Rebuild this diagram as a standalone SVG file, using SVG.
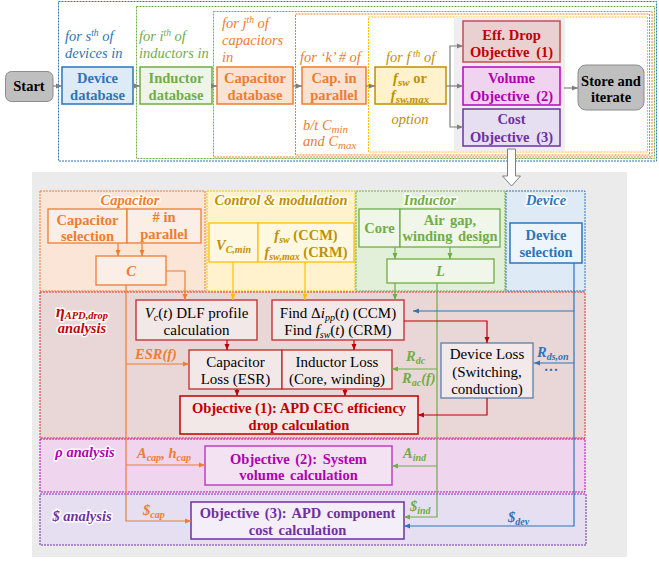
<svg xmlns="http://www.w3.org/2000/svg" width="659" height="562" viewBox="0 0 659 562">
<defs>
<style>
text{font-family:"Liberation Serif","Times New Roman",serif;font-size:14.5px;}
.b{font-weight:bold;}
.i{font-style:italic;}
.bi{font-weight:bold;font-style:italic;}
.r{font-size:15px;}
.m{text-anchor:middle;}
.glow{paint-order:stroke;stroke:#fff;stroke-width:3px;stroke-linejoin:round;}
.dot{stroke-dasharray:2 1;stroke-width:1;}
.ln{fill:none;stroke-width:1.2;}
.gr{stroke:#7f7f7f;}
.or{stroke:#ed7d31;}
.go{stroke:#ffc000;}
.gn{stroke:#70ad47;}
.bl{stroke:#2e75b6;}
.rd{stroke:#c00000;}
.sub{font-size:9.5px;}
</style>
<marker id="agr" viewBox="0 0 6 6" refX="6" refY="3" markerWidth="6" markerHeight="6" markerUnits="userSpaceOnUse" orient="auto"><path d="M0,0.5 L6,3 L0,5.5z" fill="#7f7f7f"/></marker>
<marker id="aor" viewBox="0 0 6 6" refX="6" refY="3" markerWidth="6" markerHeight="6" markerUnits="userSpaceOnUse" orient="auto"><path d="M0,0.5 L6,3 L0,5.5z" fill="#ed7d31"/></marker>
<marker id="ago" viewBox="0 0 6 6" refX="6" refY="3" markerWidth="6" markerHeight="6" markerUnits="userSpaceOnUse" orient="auto"><path d="M0,0.5 L6,3 L0,5.5z" fill="#ffc000"/></marker>
<marker id="agn" viewBox="0 0 6 6" refX="6" refY="3" markerWidth="6" markerHeight="6" markerUnits="userSpaceOnUse" orient="auto"><path d="M0,0.5 L6,3 L0,5.5z" fill="#70ad47"/></marker>
<marker id="abl" viewBox="0 0 6 6" refX="6" refY="3" markerWidth="6" markerHeight="6" markerUnits="userSpaceOnUse" orient="auto"><path d="M0,0.5 L6,3 L0,5.5z" fill="#2e75b6"/></marker>
<marker id="ard" viewBox="0 0 6 6" refX="6" refY="3" markerWidth="6" markerHeight="6" markerUnits="userSpaceOnUse" orient="auto"><path d="M0,0.5 L6,3 L0,5.5z" fill="#c00000"/></marker>
</defs>
<rect width="659" height="562" fill="#fff"/>

<!-- top loop frames -->
<g id="loops">
<rect x="58.5" y="1.5" width="598" height="159.5" fill="none" stroke="#2e75b6" class="dot"/>
<rect x="136.5" y="6.5" width="518" height="152" fill="none" stroke="#70ad47" class="dot"/>
<rect x="213.5" y="11.5" width="438.5" height="145.5" fill="none" stroke="#ed7d31" class="dot"/>
<rect x="295.5" y="14" width="354" height="141" fill="none" stroke="#ed7d31" class="dot"/>
<rect x="368.5" y="17" width="279" height="135" fill="none" stroke="#ffc000" class="dot"/>
<rect x="454" y="17" width="111" height="134" fill="#eeeeee"/>
<text x="65" y="41" class="i" fill="#2e75b6">for s<tspan font-size="9.5" dy="-5">th</tspan><tspan dy="5"> of</tspan></text>
<text x="65" y="58" class="i" fill="#2e75b6">devices in</text>
<text x="139" y="41" class="i" fill="#70ad47">for i<tspan font-size="9.5" dy="-5">th</tspan><tspan dy="5"> of</tspan></text>
<text x="139" y="58" class="i" fill="#70ad47">inductors in</text>
<text x="222" y="28" class="i" fill="#ed7d31">for j<tspan font-size="9.5" dy="-5">th</tspan><tspan dy="5"> of</tspan></text>
<text x="222" y="45" class="i" fill="#ed7d31">capacitors</text>
<text x="222" y="62" class="i" fill="#ed7d31">in</text>
<text x="300" y="62" class="i" fill="#ed7d31">for ‘k’ # of</text>
<text x="303" y="130" class="i" fill="#ed7d31">b/t <tspan>C</tspan><tspan font-size="11" dy="3">min</tspan></text>
<text x="303" y="146" class="i" fill="#ed7d31">and  C<tspan font-size="11" dy="3">max</tspan></text>
<text x="386" y="62" class="i" fill="#bf9000">for f<tspan font-size="9.5" dy="-5"> th</tspan><tspan dy="5"> of</tspan></text>
<text x="410" y="124" class="i m" fill="#bf9000">option</text>
</g>

<g id="start">
<rect x="5.5" y="71.5" width="47.5" height="30" rx="6" fill="#bfbfbf" stroke="#8c8c8c"/>
<text x="29" y="91" class="b m">Start</text>
</g>
<g id="device-db">
<rect x="62" y="67" width="71" height="37" fill="#ddebf7" stroke="#2e75b6" stroke-width="1.5"/>
<text x="97.5" y="83" class="b m" fill="#2e75b6">Device</text>
<text x="97.5" y="100" class="b m" fill="#2e75b6">database</text>
</g>
<g id="inductor-db">
<rect x="140" y="67" width="72" height="37" fill="#eef5e8" stroke="#70ad47" stroke-width="1.5"/>
<text x="176" y="83" class="b m" fill="#70ad47">Inductor</text>
<text x="176" y="100" class="b m" fill="#70ad47">database</text>
</g>
<g id="capacitor-db">
<rect x="217" y="67" width="76" height="37" fill="#fbe3d4" stroke="#ed7d31" stroke-width="1.5"/>
<text x="255" y="83" class="b m" fill="#ed7d31">Capacitor</text>
<text x="255" y="100" class="b m" fill="#ed7d31">database</text>
</g>
<g id="cap-parallel">
<rect x="302" y="67" width="64" height="37" fill="#fbe3d4" stroke="#ed7d31" stroke-width="1.5"/>
<text x="334" y="83" class="b m" fill="#ed7d31">Cap. in</text>
<text x="334" y="100" class="b m" fill="#ed7d31">parallel</text>
</g>
<g id="fsw-option">
<rect x="375" y="67" width="71" height="37" fill="#fff2cc" stroke="#bf9000" stroke-width="1.5"/>
<text x="410" y="83" class="b m" fill="#bf9000"><tspan font-style="italic">f</tspan><tspan font-style="italic" font-size="11" dy="3">sw</tspan><tspan dy="-3"> or</tspan></text>
<text x="410" y="100" class="b m" fill="#bf9000"><tspan font-style="italic">f</tspan><tspan font-style="italic" font-size="11" dy="3">sw,max</tspan></text>
</g>
<g id="obj-eff">
<rect x="463" y="21" width="97" height="41" fill="#ead1d1" stroke="#c0504d" stroke-width="1.5"/>
<text x="511.5" y="40" class="b m" fill="#c00000">Eff. Drop</text>
<text x="511.5" y="57" class="b m" fill="#c00000" word-spacing="3">Objective (1)</text>
</g>
<g id="obj-vol">
<rect x="463" y="67" width="97" height="38" fill="#f0d3ef" stroke="#c000c0" stroke-width="1.5"/>
<text x="511.5" y="83" class="b m" fill="#b000b0">Volume</text>
<text x="511.5" y="101" class="b m" fill="#b000b0" word-spacing="3">Objective (2)</text>
</g>
<g id="obj-cost">
<rect x="463" y="109" width="97" height="37" fill="#e6dff2" stroke="#7030a0" stroke-width="1.5"/>
<text x="511.5" y="124" class="b m" fill="#7030a0">Cost</text>
<text x="511.5" y="142" class="b m" fill="#7030a0" word-spacing="3">Objective (3)</text>
</g>
<g id="store">
<rect x="578" y="65" width="66" height="45" rx="8" fill="#bfbfbf" stroke="#8c8c8c"/>
<text x="611" y="86" class="b m">Store and</text>
<text x="611" y="102" class="b m">iterate</text>
</g>

<!-- bottom analysis -->
<g id="panel">
<rect x="32" y="172" width="595" height="385" fill="#ebebeb"/>
<polygon points="507.5,149 515.5,149 515.5,176 520.5,176 511.5,186 502.5,176 507.5,176" fill="#fff" stroke="#808080" stroke-width="1"/>
</g>
<g id="sec-capacitor">
<rect x="40" y="191" width="165" height="100" fill="#fbe5d6" stroke="#ed7d31" class="dot"/>
<text x="130" y="205" class="bi m glow" fill="#ed7d31">Capacitor</text>
</g>
<g id="sec-control">
<rect x="207" y="191" width="148" height="100" fill="#fff2cc" stroke="#ffc000" class="dot"/>
<text x="281" y="205" class="bi m glow" fill="#bf9000">Control &amp; modulation</text>
</g>
<g id="sec-inductor">
<rect x="356" y="191" width="149" height="100" fill="#e2efd9" stroke="#70ad47" class="dot"/>
<text x="430" y="205" class="bi m glow" fill="#70ad47">Inductor</text>
</g>
<g id="sec-device">
<rect x="506" y="191" width="79" height="100" fill="#deebf7" stroke="#2e75b6" class="dot"/>
<text x="546" y="205" class="bi m glow" fill="#2e75b6">Device</text>
</g>
<g id="sec-eta">
<rect x="40" y="292" width="545" height="146" fill="#e9d7d7" stroke="#e03030" class="dot"/>
<text x="82" y="317" class="bi m glow" fill="#c00000"><tspan font-size="16">η</tspan><tspan font-size="10.5" dy="2">APD,drop</tspan></text>
<text x="82" y="333" class="bi m glow" fill="#c00000" font-size="16">analysis</text>
</g>
<g id="sec-rho">
<rect x="40" y="439" width="545" height="53" fill="#efd6ee" stroke="#c000c0" class="dot"/>
<text x="85" y="457" class="bi m glow" fill="#b000b0" font-size="15">ρ analysis</text>
</g>
<g id="sec-cost">
<rect x="40" y="494" width="546" height="51" fill="#e6dff1" stroke="#7030a0" class="dot"/>
<text x="82" y="521" class="bi m glow" fill="#7030a0" font-size="15">$ analysis</text>
</g>

<g id="cap-selection">
<rect x="48" y="209" width="79" height="34" fill="#fbeee6" stroke="#ed7d31" stroke-width="1.3"/>
<text x="87.5" y="225" class="b m" fill="#ed7d31">Capacitor</text>
<text x="87.5" y="241" class="b m" fill="#ed7d31">selection</text>
</g>
<g id="cap-number">
<rect x="127" y="209" width="74" height="34" fill="#fbeee6" stroke="#ed7d31" stroke-width="1.3"/>
<text x="164" y="222" class="b m" fill="#ed7d31"># in</text>
<text x="164" y="239" class="b m" fill="#ed7d31">parallel</text>
</g>
<g id="cap-C">
<rect x="96" y="256" width="70" height="29" fill="#fbeee6" stroke="#ed7d31" stroke-width="1.3"/>
<text x="131" y="276" class="bi m" fill="#ed7d31">C</text>
</g>
<g id="vcmin">
<rect x="209" y="223" width="49" height="39" fill="#fff8e1" stroke="#ffc000" stroke-width="1.3"/>
<text x="233.5" y="250" class="bi m" fill="#bf9000">V<tspan font-size="10" dy="3">C,min</tspan></text>
</g>
<g id="fsw-mode">
<rect x="258" y="223" width="96" height="39" fill="#fff8e1" stroke="#ffc000" stroke-width="1.3"/>
<text x="306" y="240" class="b m" fill="#bf9000"><tspan font-style="italic">f</tspan><tspan font-style="italic" font-size="10" dy="3">sw</tspan><tspan dy="-3"> (CCM)</tspan></text>
<text x="306" y="257" class="b m" fill="#bf9000"><tspan font-style="italic">f</tspan><tspan font-style="italic" font-size="10" dy="3">sw,max</tspan><tspan dy="-3"> (CRM)</tspan></text>
</g>
<g id="core">
<rect x="359" y="209" width="41" height="38" fill="#f0f7ea" stroke="#70ad47" stroke-width="1.3"/>
<text x="379.5" y="233" class="b m" fill="#70ad47">Core</text>
</g>
<g id="airgap">
<rect x="400" y="209" width="100" height="38" fill="#f0f7ea" stroke="#70ad47" stroke-width="1.3"/>
<text x="450" y="225" class="b m" fill="#70ad47" word-spacing="2">Air gap,</text>
<text x="450" y="241" class="b m" fill="#70ad47" word-spacing="2">winding design</text>
</g>
<g id="ind-L">
<rect x="387" y="259" width="107" height="24" fill="#f0f7ea" stroke="#70ad47" stroke-width="1.3"/>
<text x="440.5" y="276" class="bi m" fill="#70ad47">L</text>
</g>
<g id="device-sel">
<rect x="510" y="223" width="72" height="40" fill="#eef4fb" stroke="#2e75b6" stroke-width="1.5"/>
<text x="546" y="240" class="b m" fill="#2e75b6">Device</text>
<text x="546" y="257" class="b m" fill="#2e75b6">selection</text>
</g>
<g id="vc-dlf">
<rect x="136" y="300" width="121" height="40" fill="#f3e8e8" stroke="#c0282d" stroke-width="1.3"/>
<text x="196.5" y="318" class="r m"><tspan font-style="italic">V</tspan><tspan font-style="italic" font-size="10" dy="3">c</tspan><tspan dy="-3">(</tspan><tspan font-style="italic">t</tspan>) DLF profile</text>
<text x="196.5" y="335" class="r m">calculation</text>
</g>
<g id="find-di">
<rect x="272" y="300" width="132" height="40" fill="#f3e8e8" stroke="#c0282d" stroke-width="1.3"/>
<text x="338" y="318" class="r m">Find Δ<tspan font-style="italic">i</tspan><tspan font-style="italic" font-size="10" dy="3">pp</tspan><tspan dy="-3">(</tspan><tspan font-style="italic">t</tspan>) (CCM)</text>
<text x="338" y="335" class="r m">Find <tspan font-style="italic">f</tspan><tspan font-style="italic" font-size="10" dy="3">sw</tspan><tspan dy="-3">(</tspan><tspan font-style="italic">t</tspan>) (CRM)</text>
</g>
<g id="cap-loss">
<rect x="189" y="350" width="93" height="39" fill="#f3e8e8" stroke="#c0282d" stroke-width="1.3"/>
<text x="235.5" y="367" class="r m">Capacitor</text>
<text x="235.5" y="384" class="r m">Loss (ESR)</text>
</g>
<g id="ind-loss">
<rect x="282" y="350" width="110" height="39" fill="#f3e8e8" stroke="#c0282d" stroke-width="1.3"/>
<text x="337" y="367" class="r m">Inductor Loss</text>
<text x="337" y="384" class="r m">(Core, winding)</text>
</g>
<g id="obj1">
<rect x="180" y="396" width="238" height="38" fill="#f3e8e8" stroke="#c00000" stroke-width="1.5"/>
<text x="299" y="413" class="b m" fill="#c00000">Objective (1): APD CEC efficiency</text>
<text x="299" y="430" class="b m" fill="#c00000">drop calculation</text>
</g>
<g id="dev-loss">
<rect x="441" y="343" width="92" height="55" fill="#f3e8ea" stroke="#5b7fa8" stroke-width="1.3"/>
<text x="487" y="359" class="r m">Device Loss</text>
<text x="487" y="377" class="r m">(Switching,</text>
<text x="487" y="394" class="r m">conduction)</text>
</g>
<g id="obj2">
<rect x="205" y="446" width="187" height="39" fill="#f3e2f2" stroke="#c040c0" stroke-width="1.5"/>
<text x="298.5" y="464" class="b m" fill="#b000b0" word-spacing="2">Objective (2): System</text>
<text x="298.5" y="480" class="b m" fill="#b000b0" word-spacing="2">volume calculation</text>
</g>
<g id="obj3">
<rect x="191" y="502" width="213" height="37" fill="#f3eef8" stroke="#7030a0" stroke-width="1.5"/>
<text x="297.5" y="518" class="b m" fill="#7030a0" word-spacing="2">Objective (3): APD component</text>
<text x="297.5" y="535" class="b m" fill="#7030a0" word-spacing="2">cost calculation</text>
</g>

<g id="connectors">
<g class="ln gr" marker-end="url(#agr)">
<path d="M53 86 H62"/><path d="M133 86 H140"/><path d="M212 86 H217"/><path d="M293 86 H302"/><path d="M366 86 H375"/>
<path d="M446 86 H463"/><path d="M450 86 V46 H463"/><path d="M450 86 V127 H463"/>
<path d="M564 88 H578"/>
</g>
<g class="ln or" marker-end="url(#aor)">
<path d="M118 243 V256"/><path d="M142 243 V256"/>
<path d="M166 271 H185 V300"/>
<path d="M126 285 V521 H191"/><path d="M126 364 H189"/><path d="M126 465 H205"/>
</g>
<g class="ln go" marker-end="url(#ago)">
<path d="M233 262 V300"/><path d="M305 262 V300"/>
</g>
<g class="ln gn" marker-end="url(#agn)">
<path d="M395 247 V259"/><path d="M450 247 V259"/>
<path d="M395 283 V300"/>
<path d="M437 283 V517 H404"/><path d="M437 369 H392"/><path d="M437 466 H392"/>
</g>
<g class="ln bl" marker-end="url(#abl)">
<path d="M574 263 V526 H404"/><path d="M574 311 H413"/><path d="M574 363 H534"/>
</g>
<g class="ln rd" marker-end="url(#ard)">
<path d="M404 321 H487 V343"/><path d="M487 398 V415 H418"/>
<path d="M227 340 V350"/><path d="M354 340 V350"/><path d="M237 389 V396"/><path d="M345 389 V396"/>
</g>
<g id="connector-labels">
<text x="135" y="359" class="bi" fill="#ed7d31" font-size="15">ESR(f)</text>
<text x="137" y="458" class="bi" fill="#ed7d31">A<tspan font-size="10" dy="3">cap</tspan><tspan dy="-3">, h</tspan><tspan font-size="10" dy="3">cap</tspan></text>
<text x="143" y="515" class="bi" fill="#ed7d31">$<tspan font-size="10" dy="3">cap</tspan></text>
<text x="406" y="361" class="bi" fill="#70ad47" font-size="15">R<tspan font-size="10" dy="3">dc</tspan></text>
<text x="402" y="383" class="bi" fill="#70ad47" font-size="15">R<tspan font-size="10" dy="3">ac</tspan><tspan dy="-3">(f)</tspan></text>
<text x="403" y="458" class="bi" fill="#70ad47">A<tspan font-size="10" dy="3">ind</tspan></text>
<text x="410" y="511" class="bi" fill="#70ad47">$<tspan font-size="10" dy="3">ind</tspan></text>
<text x="537" y="357" class="bi" fill="#2e75b6" font-size="15">R<tspan font-size="10" dy="3">ds,on</tspan></text>
<text x="551" y="375" class="b m" fill="#2e75b6">···</text>
<text x="508" y="522" class="bi" fill="#2e75b6">$<tspan font-size="10" dy="3">dev</tspan></text>
</g>
</g>
</svg>
